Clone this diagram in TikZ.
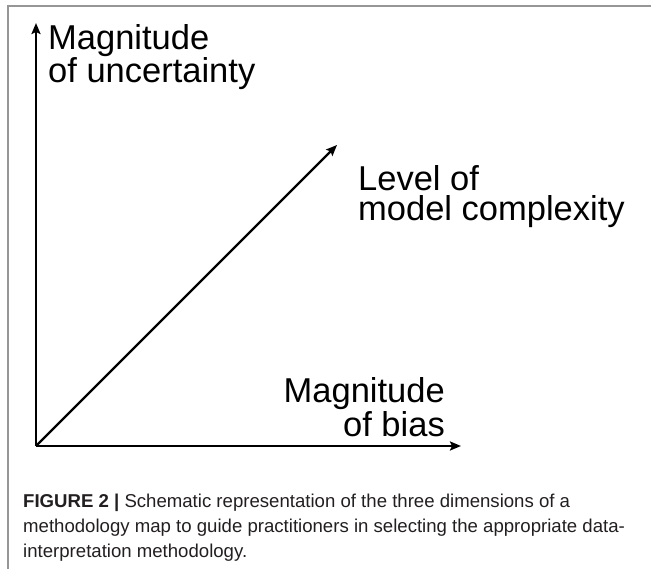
\documentclass[tikz,border=0pt]{standalone}
\usepackage{fontspec}
\setmainfont{Liberation Sans}
\usepackage{tikz}
\usetikzlibrary{arrows.meta,positioning}
\definecolor{framegray}{RGB}{150,150,150}
\definecolor{captext}{RGB}{35,31,32}

\begin{document}
\begin{tikzpicture}[x=1pt, y=-1pt,
    axis/.style={line width=2.4pt, -{Stealth[length=11pt,width=9pt,inset=2pt]}},
    axislabel/.style={font=\fontsize{34.5}{30}\selectfont, inner sep=0pt},
    every node/.style={inner sep=0pt}]
        \useasboundingbox (0,0) rectangle (651,569);
        % frame of the figure panel
        \draw[framegray, line width=1.4pt] (651,6) -- (8,6) -- (8,569);
        \coordinate (O) at (36,446);
        \coordinate (uncert) at (36,23);
        \coordinate (bias) at (461,446);
        \coordinate (cmplx) at (337,145);
        \draw[axis] (O) -- (uncert);
        \draw[axis] (O) -- (bias);
        \draw[axis] (O) -- (cmplx);
        % labels: base anchor sits on the last line
        \node[axislabel, align=left, anchor=base west] (uncertlbl) at (48,83)
          {Magnitude\\of uncertainty};
        \node[axislabel, align=left, anchor=base west] (cmplxlbl) at (358,221)
          {Level of\\model complexity};
        \node[axislabel, align=right, anchor=base east] (biaslbl) at (445,436)
          {Magnitude\\of bias};
        \node[font=\fontsize{18.6}{25}\selectfont, text=captext, align=left,
              anchor=base west] (caption) at (23,557)
          {\textbf{FIGURE 2 |} Schematic representation of the three dimensions of a\\
           methodology map to guide practitioners in selecting the appropriate data-\\
           interpretation methodology.};
\end{tikzpicture}
\end{document}
